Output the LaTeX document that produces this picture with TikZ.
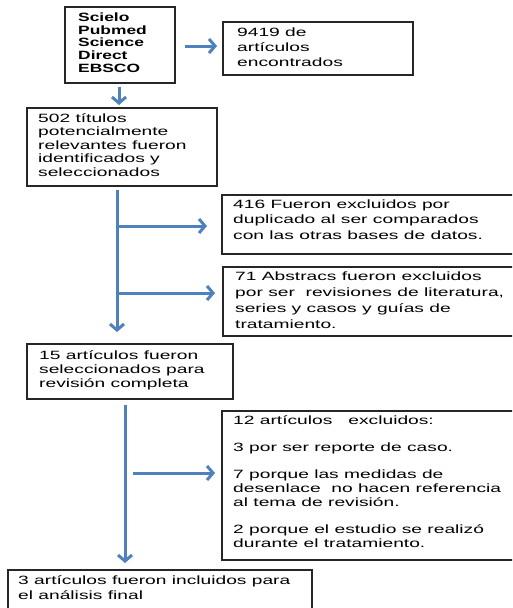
\documentclass[tikz,border=0pt]{standalone}
\usepackage{fontspec}
\setmainfont{Liberation Sans}[FakeStretch=1.6]
\newfontfamily\srcfont{Liberation Sans}[FakeStretch=1.45]
\usetikzlibrary{arrows.meta}
\definecolor{flowblue}{HTML}{4F81BD}
\definecolor{boxline}{HTML}{262626}
\newcommand\mlines[2]{\parbox[t]{300pt}{\fontsize{12}{#1}\selectfont\lineskiplimit=-50pt\raggedright #2}}
\tikzset{
 box/.style={draw=boxline, line width=1.4pt, anchor=north west, inner sep=0pt, outer sep=0pt},
 txt/.style={anchor=base west, inner sep=0pt, text=black},
 arr/.style={draw=flowblue, line width=3pt, -{Straight Barb[length=6pt,width=14pt]}}
}
\begin{document}
\begin{tikzpicture}[x=1pt,y=-1pt]
\clip (0,0) rectangle (512,608);
\fill[white] (0,0) rectangle (512,608);
% boxes
\node[box, minimum width=110pt, minimum height=76pt] (b1) at (65,7) {};
\node[box, minimum width=190pt, minimum height=53pt] (b2) at (223,22) {};
\node[box, minimum width=190pt, minimum height=78pt] (b3) at (27,108) {};
\node[box, minimum width=294pt, minimum height=59pt] (b4) at (222,195) {};
\node[box, minimum width=293pt, minimum height=69pt] (b5) at (223,267) {};
\node[box, minimum width=206pt, minimum height=55pt] (b6) at (27,344) {};
\node[box, minimum width=294pt, minimum height=149pt] (b7) at (222,411) {};
\node[box, minimum width=304pt, minimum height=45pt] (b8) at (8,570) {};
% texts
\node[txt] (t1) at (78,21.5) {\srcfont\bfseries\mlines{12.7}{Scielo\\Pubmed\\Science\\Direct\\EBSCO}};
\node[txt] (t2) at (237,36) {\mlines{15}{9419 de\\artículos\\encontrados}};
\node[txt] (t3) at (38,122) {\mlines{13.5}{502 títulos\\potencialmente\\relevantes fueron\\identificados y\\seleccionados}};
\node[txt] (t4) at (233,208) {\mlines{15.5}{416 Fueron excluidos por\\duplicado al ser comparados\\con las otras bases de datos.}};
\node[txt] (t5) at (235,280) {\mlines{16}{71 Abstracs fueron excluidos\\por ser\ \ revisiones de literatura,\\series y casos y guías de\\tratamiento.}};
\node[txt] (t6) at (39,359) {\mlines{14}{15 artículos fueron\\seleccionados para\\revisión completa}};
\node[txt] (t7) at (233,424) {\mlines{14}{12 artículos\ \ \ excluidos:\\[13pt]3 por ser reporte de caso.\\[13pt]7 porque las medidas de\\desenlace\ \ no hacen referencia\\al tema de revisión.\\[13pt]2 porque el estudio se realizó\\durante el tratamiento.}};
\node[txt] (t8) at (18,584) {\mlines{15}{3 artículos fueron incluidos para\\el análisis final}};
% connectors
\draw[arr, shorten <=10pt, shorten >=6pt] (b1.east |- 0,46) -- (b2.west |- 0,46);
\draw[arr, shorten <=4pt, shorten >=3pt] (b1.south -| 119,0) -- (b3.north -| 119,0);
\draw[arr, shorten <=4pt, shorten >=12pt] (b3.south -| 117,0) -- (b6.north -| 117,0);
\coordinate (j1) at (117,226);
\coordinate (j2) at (117,293);
\draw[arr, shorten >=15pt] (j1) -- (b4.west |- j1);
\draw[arr, shorten >=8pt] (j2) -- (b5.west |- j2);
\draw[arr, shorten <=6pt, shorten >=7pt] (b6.south -| 125,0) -- (b8.north -| 125,0);
\coordinate (j3) at (133,473);
\draw[arr, shorten >=7pt] (j3) -- (b7.west |- j3);
\end{tikzpicture}
\end{document}
